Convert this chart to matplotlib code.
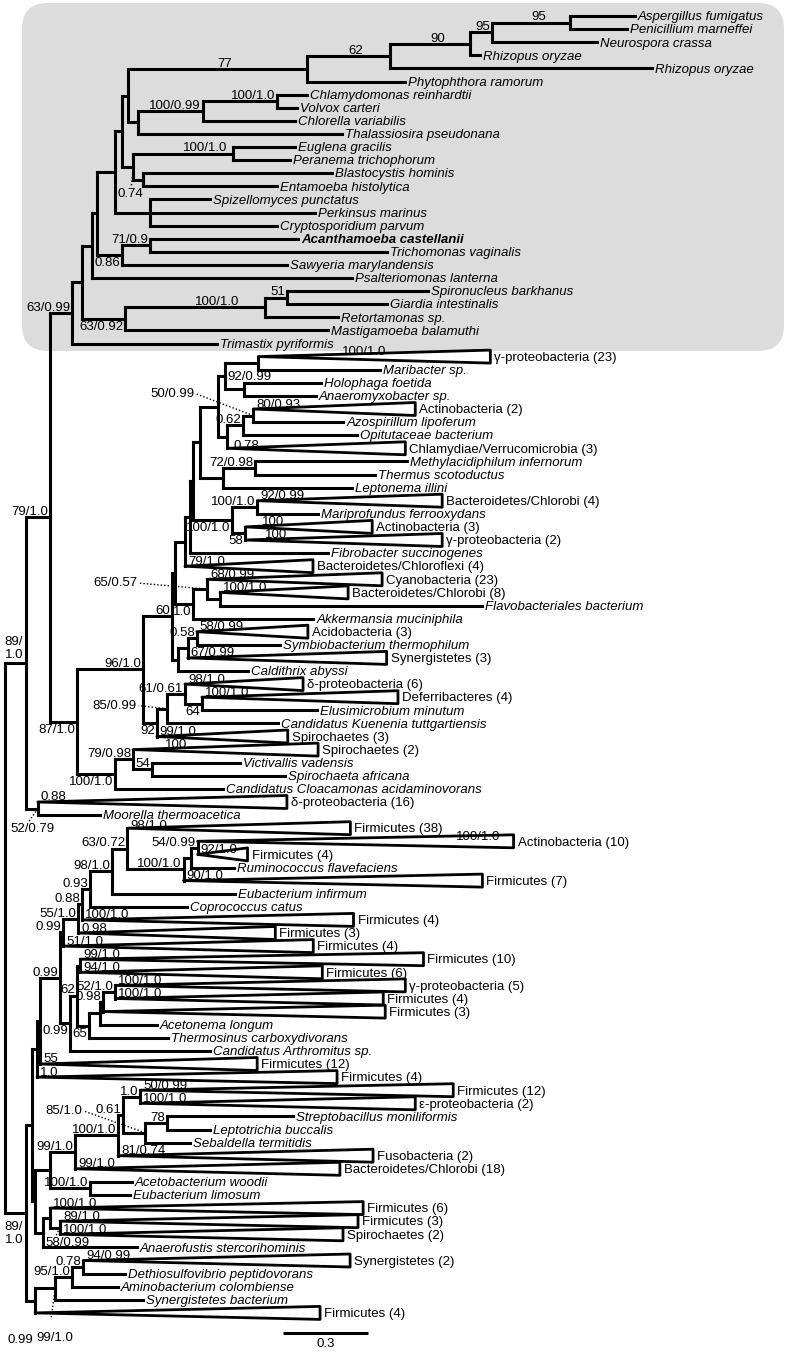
import re
import matplotlib
matplotlib.use("Agg")
import matplotlib.pyplot as plt
from matplotlib.collections import LineCollection
from matplotlib.patches import Polygon, FancyBboxPatch
from matplotlib.transforms import IdentityTransform

# Tree data (Newick). Branch lengths in substitutions/site, support values as
# quoted node labels; collapsed clades carry their support in [brackets].
EUKARYOTES = """
((((((((((((
'Aspergillus fumigatus':0.229,'Penicillium marneffei':0.201)'95':0.275,
'Neurospora crassa':0.371)'95':0.078,'Rhizopus oryzae':0.035)'90':0.282,
'Rhizopus oryzae':0.925)'62':0.293,'Phytophthora ramorum':0.346)'77':0.632,
((('Chlamydomonas reinhardtii':0.106,'Volvox carteri':0.071)'100/1.0':0.261,
'Chlorella variabilis':0.325)'100/0.99':0.229,'Thalassiosira pseudonana':0.720):0.035):0.021,
(('Euglena gracilis':0.219,'Peranema trichophorum':0.201)'100/1.0':0.353,
('Blastocystis hominis':0.667,'Entamoeba histolytica':0.473):0.035)'0.74':0.039):0.025,
('Spizellomyces punctatus':0.212,'Perkinsus marinus':0.582,
'Cryptosporidium parvum':0.448):0.124):0.064,
(('Acanthamoeba castellanii':0.522,'Trichomonas vaginalis':0.837)'71/0.9':0.099,
'Sawyeria marylandensis':0.582)'0.86':0.088):0.018,
'Psalteriomonas lanterna':0.918):0.035,
((('Spironucleus barkhanus':0.498,'Giardia intestinalis':0.353)'51':0.078,
'Retortamonas sp.':0.258)'100/1.0':0.494,'Mastigamoeba balamuthi':0.717)'63/0.92':0.152):0.035,
'Trimastix pyriformis':0.512)'63/0.99':0.078
"""

BACTERIA = """
(((((((((((
'γ-proteobacteria (23)'[100/1.0]:0.819,'Maribacter sp.':0.431):0.116,
('Holophaga foetida':0.272,'Anaeromyxobacter sp.':0.254)'92/0.99':0.064):0.025,
((('Actinobacteria (2)'[80/0.93]:0.572,'Azospirillum lipoferum':0.318)'50/0.99':0.035,
'Opitutaceae bacterium':0.402)'0.62':0.056,
'Chlamydiae/Verrucomicrobia (3)':0.628)'0.78':0.032):0.064,
(('Methylacidiphilum infernorum':0.537,'Thermus scotoductus':0.424)'72/0.98':0.113,
'Leptonema illini':0.455):0.081):0.025,
(('Bacteroidetes/Chlorobi (4)'[92/0.99]:0.653,'Mariprofundus ferrooxydans':0.215)'100/1.0':0.088,
('Actinobacteria (3)'[100]:0.448,'γ-proteobacteria (2)'[100]:0.695)'58':0.046)'100/1.0':0.138):0.011,
'Fibrobacter succinogenes':0.487):0.018,
'Bacteroidetes/Chloroflexi (4)'[79/1.0]:0.452):0.035,
(('Cyanobacteria (23)'[68/0.99]:0.618,
('Bacteroidetes/Chlorobi (8)'[100/1.0]:0.452,'Flavobacteriales bacterium':0.925):0.046)'65/0.57':0.049,
'Akkermansia muciniphila':0.424)'1.0':0.064):0.011,
((('Acidobacteria (3)'[58/0.99]:0.392,'Symbiobacterium thermophilum':0.293)'0.58':0.032,
'Synergistetes (3)'[67/0.99]:0.702):0.035,'Caldithrix abyssi':0.247):0.021)'60':0.102,
((('δ-proteobacteria (6)'[98/1.0]:0.417,
('Deferribacteres (4)'[100/1.0]:0.692,'Elusimicrobium minutum':0.406)'64':0.060)'61/0.61':0.064,
'Candidatus Kuenenia tuttgartiensis':0.392)'85/0.99':0.035,
'Spirochaetes (3)'[99/1.0]:0.462)'92':0.049)'96/1.0':0.233,
(('Spirochaetes (2)'[100]:0.653,
('Victivallis vadensis':0.311,'Spirochaeta africana':0.469)'54':0.067)'79/0.98':0.064,
'Candidatus Cloacamonas acidaminovorans':0.381)'100/1.0':0.134)'87/1.0':0.095
"""

DELTA_MOORELLA = """
('δ-proteobacteria (16)'[0.88]:0.879,'Moorella thermoacetica':0.219)'52/0.79':0.042
"""

FIRMICUTES_ETC = """
(((((((((((
'Firmicutes (38)'[98/1.0]:0.787,
((('Actinobacteria (10)'[100/1.0]:1.115,'Firmicutes (4)'[92/1.0]:0.176)'54/0.99':0.025,
'Ruminococcus flavefaciens':0.152):0.025,'Firmicutes (7)'[90/1.0]:1.055)'100/1.0':0.198)'63/0.72':0.053,
'Eubacterium infirmum':0.434)'98/1.0':0.078,'Coprococcus catus':0.342)'0.93':0.028,
'Firmicutes (4)'[100/1.0]:0.957)'0.88':0.014,'Firmicutes (3)'[0.98]:0.695)'55/1.0':0.053,
'Firmicutes (4)'[51/1.0]:0.882)'0.99':0.011,
((('Firmicutes (10)'[99/1.0]:1.211,'Firmicutes (6)'[94/1.0]:0.854):0.011,
(((('γ-proteobacteria (5)'[100/1.0]:1.024,'Firmicutes (4)'[100/1.0]:0.946)'52/1.0':0.042,
'Firmicutes (3)':0.995)'0.98':0.011,'Acetonema longum':0.201):0.039,
'Thermosinus carboxydivorans':0.279)'65':0.042)'62':0.025,
'Candidatus Arthromitus sp.':0.494)'0.99':0.035)'0.99':0.071,
'Firmicutes (12)'[55]:0.766):0.011,'Firmicutes (4)'[1.0]:1.059):0.018,
(((((('Firmicutes (12)'[50/0.99]:1.105,'ε-proteobacteria (2)'[100/1.0]:0.971)'1.0':0.060,
(('Streptobacillus moniliformis':0.445,'Leptotrichia buccalis':0.152)'78':0.078,
'Sebaldella termitidis':0.159)'85/1.0':0.078)'0.61':0.018,
'Fusobacteria (2)'[81/0.74]:0.900)'100/1.0':0.152,
'Bacteroidetes/Chlorobi (18)'[99/1.0]:0.935)'99/1.0':0.088,
('Acetobacterium woodii':0.148,'Eubacterium limosum':0.141)'100/1.0':0.141):0.053,
(('Firmicutes (6)'[100/1.0]:1.105,
('Firmicutes (3)'[89/1.0]:1.052,'Spirochaetes (2)'[100/1.0]:0.999)'58/0.99':0.035):0.025,
'Anaerofustis stercorihominis':0.332):0.028):0.011):0.021,
(((('Synergistetes (2)'[94/0.99]:0.942,'Dethiosulfovibrio peptidovorans':0.148)'0.78':0.039,
'Aminobacterium colombiense':0.162)'95/1.0':0.060,'Synergistetes bacterium':0.311)'99/1.0':0.071,
'Firmicutes (4)':1.006)'0.99':0.032)'89/1.0':0.074
"""

TREE = ("(((" + EUKARYOTES + "," + BACTERIA + ")'79/1.0':0.085," + DELTA_MOORELLA
        + ")'89/1.0':0.074," + FIRMICUTES_ETC + ")")

SCALE_BAR = 0.3
BOLD_TAXA = ["Acanthamoeba castellanii"]

# label placement tweaks (pixel offsets, y downwards)
LABEL_STYLE = {
    ("89/1.0", "Aspergillus fumigatus", "Moorella thermoacetica"):
        dict(text="89/\n1.0", at=(-12, -2), ha="center", va="bottom"),
    ("89/1.0", "Firmicutes (38)", "Firmicutes (4)"):
        dict(text="89/\n1.0", at=(-12, 8), ha="center", va="top"),
    ("0.74", "Euglena gracilis", "Entamoeba histolytica"):
        dict(at=(-3, 21), ha="center", va="top", lead=(-2, 19)),
    ("0.86", "Acanthamoeba castellanii", "Sawyeria marylandensis"): dict(below=True),
    ("63/0.92", "Spironucleus barkhanus", "Mastigamoeba balamuthi"): dict(below=True),
    ("92/0.99", "Holophaga foetida", "Anaeromyxobacter sp."):
        dict(at=(-16, -12), ha="left", va="center"),
    ("50/0.99", "Actinobacteria (2)", "Azospirillum lipoferum"):
        dict(at=(-59, -22), ha="right", va="center", lead=(-58, -22)),
    ("0.78", "Actinobacteria (2)", "Chlamydiae/Verrucomicrobia (3)"):
        dict(at=(6, 3), ha="left", va="top"),
    ("100/1.0", "Bacteroidetes/Chlorobi (4)", "γ-proteobacteria (2)"): dict(below=True),
    ("58", "Actinobacteria (3)", "γ-proteobacteria (2)"): dict(below=True),
    ("65/0.57", "Cyanobacteria (23)", "Flavobacteriales bacterium"):
        dict(at=(-70, -6), ha="right", va="center", lead=(-68, -6)),
    ("1.0", "Cyanobacteria (23)", "Akkermansia muciniphila"): dict(below=True),
    ("85/0.99", "δ-proteobacteria (6)", "Candidatus Kuenenia tuttgartiensis"):
        dict(at=(-30, -3), ha="right", va="center", lead=(-28, -3)),
    ("64", "Deferribacteres (4)", "Elusimicrobium minutum"): dict(below=True),
    ("92", "δ-proteobacteria (6)", "Spirochaetes (3)"): dict(below=True),
    ("87/1.0", "γ-proteobacteria (23)", "Candidatus Cloacamonas acidaminovorans"): dict(below=True),
    ("100/1.0", "Spirochaetes (2)", "Candidatus Cloacamonas acidaminovorans"): dict(below=True),
    ("52/0.79", "δ-proteobacteria (16)", "Moorella thermoacetica"):
        dict(at=(-5, 14), ha="center", va="top", lead=(-9, 13)),
    ("0.99", "Firmicutes (10)", "Candidatus Arthromitus sp."): dict(below=True),
    ("65", "γ-proteobacteria (5)", "Thermosinus carboxydivorans"): dict(below=True),
    ("85/1.0", "Streptobacillus moniliformis", "Sebaldella termitidis"):
        dict(at=(-63, -22), ha="right", va="center", lead=(-62, -22)),
    ("58/0.99", "Firmicutes (3)", "Spirochaetes (2)"):
        dict(at=(8, 9), ha="center", va="top", lead=(-4, 8)),
    ("99/1.0", "Synergistetes (2)", "Synergistetes bacterium"):
        dict(at=(0, 44), ha="center", va="top", lead=(-4, 30)),
    ("0.99", "Synergistetes (2)", "Firmicutes (4)"):
        dict(at=(-15, 33), ha="center", va="top"),
    ("100/1.0", "γ-proteobacteria (23)"): dict(dx=81),
    ("100/1.0", "Actinobacteria (10)"): dict(dx=255),
    ("98/1.0", "Firmicutes (38)"): dict(dy=1.0),
    ("100", "Spirochaetes (2)"): dict(dx=29),
    ("100", "Actinobacteria (3)"): dict(dx=14),
    ("100", "γ-proteobacteria (2)"): dict(dx=17),
}

W, H = 786, 1355
ROOT_PX = 5
FIRST_ROW_PX = 16
ROW_PX = 13.1
PX_PER_UNIT = 85 / SCALE_BAR
FS = 9.5
LW = 2.2
TRI_H = 13 / ROW_PX
plt.rcParams["font.family"] = ["Liberation Sans", "DejaVu Sans"]


def parse_newick(s):
    pos = 0

    def skip():
        nonlocal pos
        while pos < len(s) and s[pos] in " \n\t\r":
            pos += 1

    def node():
        nonlocal pos
        skip()
        n = {"children": [], "name": None, "sup": None, "len": 0.0}
        if s[pos] == "(":
            pos += 1
            while True:
                n["children"].append(node())
                skip()
                if s[pos] == ",":
                    pos += 1
                    continue
                pos += 1
                break
        skip()
        if pos < len(s) and s[pos] == "'":
            end = s.index("'", pos + 1)
            txt = s[pos + 1:end]
            pos = end + 1
            if n["children"]:
                n["sup"] = txt
            else:
                n["name"] = txt
        skip()
        if pos < len(s) and s[pos] == "[":
            end = s.index("]", pos)
            n["sup"] = s[pos + 1:end]
            pos = end + 1
        skip()
        if pos < len(s) and s[pos] == ":":
            pos += 1
            m = re.match(r"[-+0-9.eE]+", s[pos:])
            n["len"] = float(m.group())
            pos += m.end()
        return n

    return node()


root = parse_newick(TREE)
leaves, nodes = [], []


def layout(n, depth):
    n["x"] = depth
    nodes.append(n)
    if n["children"]:
        for c in n["children"]:
            c["parent"] = n
            layout(c, depth + c["len"])
        n["y"] = (n["children"][0]["y"] + n["children"][-1]["y"]) / 2
        n["first"] = n["children"][0]["first"]
        n["last"] = n["children"][-1]["last"]
    else:
        n["y"] = len(leaves)
        leaves.append(n)
        n["first"] = n["last"] = n["name"]


layout(root, 0.0)
CLADE = re.compile(r"\(\d+\)$")


def collapsed(n):
    return not n["children"] and bool(CLADE.search(n["name"]))


fig = plt.figure(figsize=(W / 100, H / 100), dpi=100)
ax = fig.add_axes([0, 0, 1, 1])
ax.axis("off")
ax.patch.set_visible(False)
renderer = fig.canvas.get_renderer()

box = FancyBboxPatch((22, H - 351), 762, 348, boxstyle="round,pad=0,rounding_size=26",
                     fc="#dcdcdc", ec="none", transform=IdentityTransform(), zorder=0)
ax.add_patch(box)

segs = []
for n in nodes:
    if not n["children"]:
        continue
    segs.append([(n["x"], n["children"][0]["y"]), (n["x"], n["children"][-1]["y"])])
    for c in n["children"]:
        if collapsed(c):
            ax.add_patch(Polygon([(n["x"], c["y"]), (c["x"], c["y"] - TRI_H / 2),
                                  (c["x"], c["y"] + TRI_H / 2)], closed=True, fill=False,
                                 ec="k", lw=2.0, joinstyle="round", zorder=2))
        else:
            segs.append([(n["x"], c["y"]), (c["x"], c["y"])])
ax.add_collection(LineCollection(segs, colors="k", linewidths=LW, capstyle="projecting", zorder=3))

# leaf labels
for n in leaves:
    clade = collapsed(n)
    ax.annotate(n["name"], xy=(n["x"], n["y"]), xytext=(4 if clade else 3, -4.3),
                textcoords="offset pixels", ha="left", va="baseline", fontsize=FS,
                fontstyle="normal" if clade else "italic",
                fontweight="bold" if n["name"] in BOLD_TAXA else "normal")


def text_width(s):
    t = ax.text(0, 0, s, fontsize=FS)
    w = t.get_window_extent(renderer).width
    t.remove()
    return w


# support labels
for n in nodes:
    if not n["sup"] or "parent" not in n:
        continue
    clade = not n["children"]
    key = (n["sup"], n["name"]) if clade else (n["sup"], n["first"], n["last"])
    st = LABEL_STYLE.get(key, {})
    txt = st.get("text", n["sup"])
    if "at" in st:
        anchor = (n["x"], n["y"])
        dx, dy = st["at"]
        ha, va = st["ha"], st["va"]
        if "lead" in st:
            lx, ly = st["lead"]
            ax.plot([n["x"], n["x"] + lx / PX_PER_UNIT], [n["y"], n["y"] + ly / ROW_PX],
                    color="k", lw=1.0, ls=(0, (1, 1.5)), zorder=3)
    elif clade:
        anchor = (n["parent"]["x"], n["y"])
        dx, dy, ha, va = 3 + st.get("dx", 0), st.get("dy", -1.5), "left", "baseline"
    else:
        anchor = (n["x"], n["y"])
        w = text_width(txt)
        dx = -max(n["len"] * PX_PER_UNIT / 2, w + 2)
        ha = "left"
        if st.get("below"):
            dy, va = 2, "top"
        else:
            dy, va = -2.2, "baseline"
    ax.annotate(txt, xy=anchor, xytext=(dx, -dy), textcoords="offset pixels",
                ha=ha, va=va, fontsize=FS, linespacing=1.15, zorder=4)

# scale bar
bar_x0 = (283 - ROOT_PX) / PX_PER_UNIT
bar_row = (1333 - FIRST_ROW_PX) / ROW_PX
ax.plot([bar_x0, bar_x0 + SCALE_BAR], [bar_row, bar_row], color="k", lw=LW,
        solid_capstyle="butt")
ax.annotate(str(SCALE_BAR), xy=(bar_x0 + SCALE_BAR / 2, bar_row), xytext=(0, -5),
            textcoords="offset pixels", ha="center", va="top", fontsize=FS)

ax.set_xlim(-ROOT_PX / PX_PER_UNIT, (W - ROOT_PX) / PX_PER_UNIT)
ax.set_ylim((H - FIRST_ROW_PX) / ROW_PX, -FIRST_ROW_PX / ROW_PX)
fig.savefig("out.png", dpi=100)
